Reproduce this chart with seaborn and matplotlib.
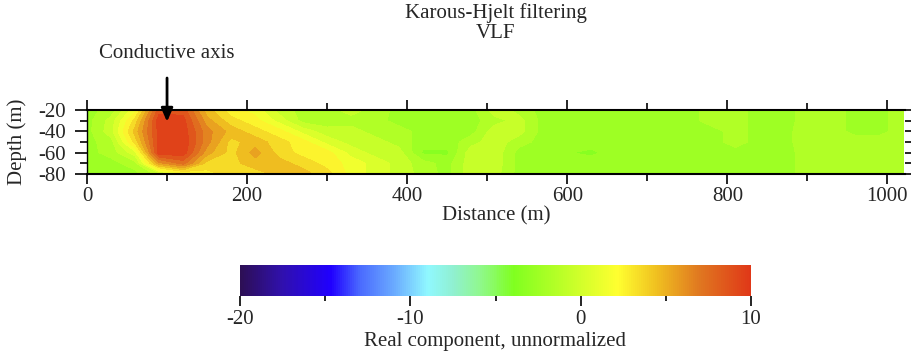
import numpy as np
import matplotlib.pyplot as plt
import seaborn as sns
from matplotlib.colors import LinearSegmentedColormap, Normalize
from matplotlib.cm import ScalarMappable
from matplotlib.ticker import MultipleLocator

sns.set_style("ticks")
plt.rcParams['font.family'] = ['Liberation Serif', 'DejaVu Serif']
plt.rcParams['axes.unicode_minus'] = False

FONT = 15

# grid: distance every 30 m, depth every 10 m
distance = np.arange(0, 1021, 30)
depth = np.array([-20, -30, -40, -50, -60, -70, -80])

# one list per distance column, top (-20 m) to bottom (-80 m)
columns = [
    [-2.4, -2.4, -2.4, -2.4, -2.4, -2.4, -2.4],   # 0
    [-1.6, -0.6, -0.4, -1.4, -1.6, -2.4, -2.4],   # 30
    [1.6, 3.4, 4.4, 3.4, 0.6, -1.4, -2.4],        # 60
    [8.6, 9.6, 9.4, 9.4, 9.6, 5.6, -0.6],         # 90
    [8.6, 9.4, 9.6, 9.8, 9.6, 7.4, 1.6],          # 120
    [4.4, 5.4, 6.4, 6.4, 5.4, 3.6, 2.6],          # 150
    [2.4, 3.4, 4.6, 3.6, 3.6, 3.6, 3.4],          # 180
    [1.6, 2.4, 3.4, 4.6, 5.4, 4.6, 3.4],          # 210
    [-0.4, 0.6, 2.4, 3.4, 3.6, 4.4, 4.4],         # 240
    [-1.4, -1.4, 0.6, 2.4, 2.6, 3.6, 4.4],        # 270
    [-1.4, -1.6, -0.6, 0.6, 2.4, 2.6, 3.4],       # 300
    [-0.6, -1.4, -0.6, -0.4, 0.6, 1.6, 1.6],      # 330
    [-1.4, -1.6, -1.4, -0.6, -0.4, 0.6, 0.6],     # 360
    [-2.4, -2.4, -1.6, -1.4, -0.6, -0.4, -0.4],   # 390
    [-2.6, -2.4, -2.4, -2.6, -3.2, -1.6, -1.4],   # 420
    [-2.4, -2.4, -2.4, -2.6, -3.2, -2.4, -2.4],   # 450
    [-2.4, -2.4, -2.4, -1.4, -0.4, -0.4, -0.4],   # 480
    [-0.4, -1.4, -0.4, -0.4, -0.4, -0.4, -0.6],   # 510
    [-1.4, -0.6, -0.6, -1.6, -2.4, -2.4, -2.4],   # 540
    [-2.4, -2.4, -2.4, -2.4, -2.4, -2.4, -2.4],   # 570
    [-2.4, -2.4, -2.4, -2.4, -2.9, -2.4, -2.4],   # 600
    [-2.4, -2.4, -2.4, -2.4, -3.3, -2.4, -2.4],   # 630
    [-2.4, -2.4, -2.4, -2.4, -2.4, -2.4, -2.4],   # 660
    [-2.4, -2.4, -2.4, -2.4, -2.4, -2.4, -2.4],   # 690
    [-2.4, -2.4, -2.4, -2.4, -2.4, -2.4, -2.4],   # 720
    [-2.4, -2.4, -2.4, -2.4, -2.4, -2.4, -2.4],   # 750
    [-1.6, -1.6, -2.4, -2.4, -2.4, -2.4, -2.4],   # 780
    [-1.6, -1.6, -1.6, -1.6, -2.4, -2.4, -2.4],   # 810
    [-2.4, -2.4, -2.4, -2.4, -2.4, -2.4, -2.4],   # 840
    [-2.4, -2.4, -2.4, -2.4, -2.4, -2.4, -2.4],   # 870
    [-1.6, -1.6, -1.4, -1.4, -1.6, -1.6, -1.6],   # 900
    [-1.4, -1.4, -1.4, -1.4, -1.4, -1.4, -1.4],   # 930
    [-2.4, -2.4, -2.4, -1.4, -1.4, -1.4, -1.4],   # 960
    [-2.4, -2.4, -2.4, -1.4, -1.4, -1.4, -1.4],   # 990
    [-1.4, -1.4, -1.4, -1.4, -1.4, -1.4, -1.4],   # 1020
]
values = np.array(columns).T

# colour scale of the colour bar (value, colour)
scale_values = [-20, -17.5, -14.7, -13, -11, -9, -7.5, -6, -3.9, 2.2, 4.5, 7, 10]
scale_colors = ["#2d0f55", "#3010b0", "#2000ff", "#4a6aff", "#6aaaff", "#90f8ff",
                "#90f0d0", "#90f890", "#80ff20", "#ffff30", "#f0c020", "#e07820", "#e03818"]
vmin, vmax = -20, 10

pos = [(v - vmin) / (vmax - vmin) for v in scale_values]
cmap = LinearSegmentedColormap.from_list("vlf", list(zip(pos, scale_colors)))
norm = Normalize(vmin, vmax)

fig = plt.figure(figsize=(9.11, 3.57), dpi=100)
ax = fig.add_axes([87 / 911, 1 - 174 / 357, 818 / 911, 64 / 357])

X, Y = np.meshgrid(distance, depth)
ax.contourf(X, Y, values, levels=np.arange(-20, 10.5, 1), cmap=cmap, norm=norm)

ax.set_xlim(0, 1022)
ax.set_ylim(-80, -20)
ax.xaxis.set_major_locator(MultipleLocator(200))
ax.xaxis.set_minor_locator(MultipleLocator(100))
ax.set_yticks([-20, -40, -60, -80])
ax.yaxis.set_minor_locator(MultipleLocator(10))
ax.tick_params(axis='x', which='both', top=True, bottom=True, direction='out', labelsize=FONT)
ax.tick_params(axis='y', which='both', left=True, right=True, direction='out', labelsize=FONT)
ax.tick_params(which='major', length=7, width=1.2, color='black')
ax.tick_params(which='minor', length=5, width=1.2, color='black')
ax.tick_params(axis='y', which='major', length=9, pad=6)
ax.tick_params(axis='x', which='major', pad=2)
for side in ['top', 'bottom']:
    ax.spines[side].set_linewidth(1.5)
    ax.spines[side].set_color('black')
ax.spines['left'].set_linewidth(1.0)
ax.spines['left'].set_color('black')
ax.spines['right'].set_visible(False)

ax.set_xlabel("Distance (m)", fontsize=FONT)
ax.set_ylabel("Depth (m)", fontsize=FONT)
ax.xaxis.set_label_coords(0.5, (174 - 206) / 64)
ax.yaxis.set_label_coords((27 - 87) / 818, 0.5)

fig.text(496 / 911, 1 - 13 / 357, "Karous-Hjelt filtering", ha='center', va='center', fontsize=FONT)
fig.text(496 / 911, 1 - 33 / 357, "VLF", ha='center', va='center', fontsize=FONT)

ax.text(100, 32.5, "Conductive axis", ha='center', va='center', fontsize=FONT)
ax.annotate('', xy=(100, -31), xytext=(100, 10), annotation_clip=False,
            arrowprops=dict(arrowstyle='-|>,head_width=0.35,head_length=0.8',
                            color='black', lw=2, shrinkA=0, shrinkB=0))

cax = fig.add_axes([240 / 911, 1 - 296 / 357, 511 / 911, 31 / 357])
cb = fig.colorbar(ScalarMappable(norm=norm, cmap=cmap), cax=cax, orientation='horizontal')
cb.outline.set_visible(False)
cb.set_ticks([-20, -10, 0, 10])
cb.ax.xaxis.set_minor_locator(MultipleLocator(5))
cb.ax.tick_params(which='major', length=7, width=1.2, labelsize=FONT, color='black', pad=3)
cb.ax.tick_params(which='minor', length=3.5, width=1.2, color='black')
cb.set_label("Real component, unnormalized", fontsize=FONT, labelpad=2)

fig.savefig("out.png", dpi=100)
